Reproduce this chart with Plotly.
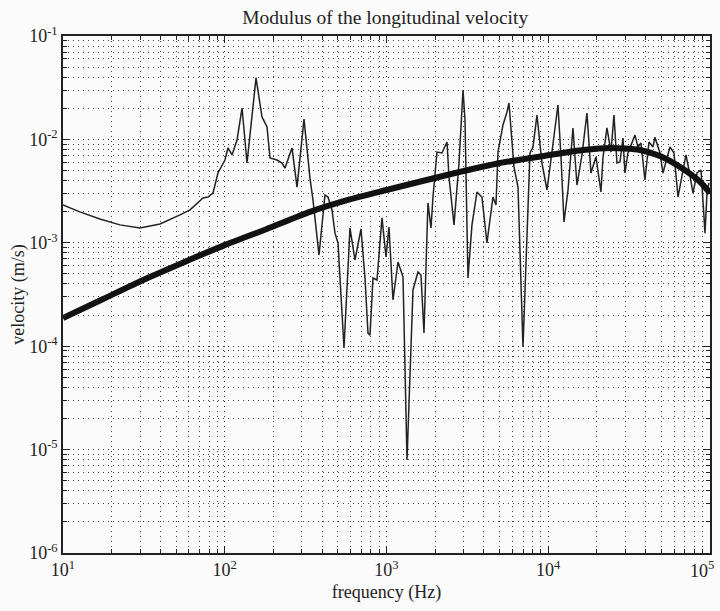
import plotly.graph_objects as go

# Measured (thin) response: frequency (Hz) and velocity modulus (m/s)
freq_meas = [10, 12.7, 16.9, 22.5, 29.9, 39.8, 52.9, 61.0, 73.4, 78.8, 84.6, 90.8, 100.3, 104.7,
             110.9, 119.1, 127.9, 137.3, 156.1, 169.9, 182.5, 190.5, 210.4, 225.9, 235.7, 260.5,
             279.8, 309.0, 336.5, 351.2, 382.5, 416.6, 434.8, 460.3, 480.3, 501.4, 546.1, 594.7,
             638.6, 695.4, 736.2, 768.3, 790.6, 825.0, 873.4, 937.8, 992.7, 1036, 1097, 1178, 1265,
             1339, 1458, 1565, 1634, 1705, 1804, 1884, 1938, 2052, 2203, 2366, 2434, 2614, 2807,
             2972, 3057, 3189, 3376, 3625, 3892, 4179, 4551, 4753, 4890, 5250, 5558, 5718, 6138,
             6500, 6979, 7493, 7710, 8045, 8518, 9145, 9820, 10390, 11480, 11990, 12510, 13250,
             14220, 15050, 16160, 17350, 18370, 19720, 21180, 21780, 23070, 24420, 25480, 26590,
             27760, 28970, 29800, 31110, 34360, 35860, 37430, 39620, 41950, 44400, 45680, 49060,
             51200, 56560, 59880, 63390, 71020, 74140, 78500, 83100, 87970, 93130, 95810, 98500]
vel_meas = [2.32e-3, 1.99e-3, 1.70e-3, 1.49e-3, 1.39e-3, 1.52e-3, 1.86e-3, 2.08e-3, 2.71e-3, 2.77e-3,
            3.03e-3, 4.73e-3, 6.32e-3, 8.26e-3, 7.07e-3, 9.87e-3, 2.01e-2, 5.91e-3, 3.93e-2, 1.65e-2,
            1.32e-2, 6.61e-3, 6.32e-3, 5.91e-3, 5.29e-3, 8.26e-3, 3.46e-3, 1.57e-2, 4.23e-3, 2.59e-3,
            7.62e-4, 2.90e-3, 2.77e-3, 2.08e-3, 1.24e-3, 9.96e-4, 9.61e-5, 1.39e-3, 6.82e-4, 1.36e-3,
            4.57e-4, 1.34e-4, 1.28e-4, 4.57e-4, 4.37e-4, 1.74e-3, 7.29e-4, 1.42e-3, 2.80e-4, 6.52e-4,
            4.67e-4, 7.94e-6, 3.50e-4, 5.22e-4, 4.88e-4, 1.34e-4, 2.43e-3, 1.39e-3, 2.77e-3, 7.55e-3,
            7.39e-3, 9.44e-3, 4.33e-3, 1.49e-3, 5.91e-3, 3.00e-2, 1.54e-2, 4.57e-4, 1.49e-3, 3.10e-3,
            2.77e-3, 9.96e-4, 2.77e-3, 2.32e-3, 7.55e-3, 1.38e-2, 1.84e-2, 2.25e-2, 5.41e-3, 3.46e-3,
            9.82e-5, 2.59e-3, 7.39e-3, 8.45e-3, 1.72e-2, 5.91e-3, 3.24e-3, 6.32e-3, 2.15e-2, 6.76e-3,
            1.59e-3, 3.24e-3, 1.29e-2, 3.62e-3, 7.07e-3, 1.80e-2, 4.73e-3, 6.76e-3, 3.10e-3, 6.61e-3,
            1.29e-2, 7.55e-3, 1.72e-2, 5.91e-3, 6.04e-3, 1.03e-2, 4.73e-3, 7.39e-3, 1.10e-2, 8.45e-3,
            9.23e-3, 4.05e-3, 9.44e-3, 8.45e-3, 1.05e-2, 7.39e-3, 4.73e-3, 8.45e-3, 7.39e-3, 2.77e-3,
            7.07e-3, 5.06e-3, 3.03e-3, 4.73e-3, 5.06e-3, 1.24e-3, 3.03e-3, 3.79e-3]

# Model (thick) curve
freq_model = [10, 17.7, 31.3, 56, 100, 182, 336, 578, 1000, 2470, 5030, 10250, 16390, 24100,
              36900, 49100, 65300, 86700, 100000]
vel_model = [1.87e-4, 2.86e-4, 4.37e-4, 6.5e-4, 9.5e-4, 1.36e-3, 1.99e-3, 2.6e-3, 3.24e-3, 4.6e-3,
             5.91e-3, 7.06e-3, 7.89e-3, 8.26e-3, 7.9e-3, 6.9e-3, 5.4e-3, 3.9e-3, 3.03e-3]

x_tickvals = [10, 100, 1000, 10000, 100000]
x_ticktext = ["10<sup>1</sup>", "10<sup>2</sup>", "10<sup>3</sup>", "10<sup>4</sup>", "10<sup>5</sup>"]
y_tickvals = [1e-6, 1e-5, 1e-4, 1e-3, 1e-2, 1e-1]
y_ticktext = ["10<sup>-6</sup>", "10<sup>-5</sup>", "10<sup>-4</sup>", "10<sup>-3</sup>",
              "10<sup>-2</sup>", "10<sup>-1</sup>"]

FONT = "Liberation Serif, Times New Roman, serif"
DOTS = "1px,4px"
INK = "#222222"

fig = go.Figure()
fig.add_trace(go.Scatter(x=freq_meas, y=vel_meas, mode="lines",
                         line=dict(color=INK, width=1.5), showlegend=False))
fig.add_trace(go.Scatter(x=freq_model, y=vel_model, mode="lines",
                         line=dict(color="#111111", width=6, shape="spline", smoothing=0.6),
                         showlegend=False))

axis_common = dict(
    type="log", showline=True, linecolor=INK, linewidth=1.5, mirror="ticks",
    ticks="inside", ticklen=7, tickcolor=INK, zeroline=False, automargin=False,
    tickfont=dict(family=FONT, size=18, color=INK),
    showgrid=True, gridcolor="#333333", gridwidth=1, griddash=DOTS,
    minor=dict(dtick="D1", ticks="inside", ticklen=4, tickcolor=INK,
               showgrid=True, gridcolor="#444444", gridwidth=1, griddash=DOTS),
)

# the last x tick label would overflow the page edge: draw it as an annotation instead
shown_xtext = x_ticktext[:-1] + [""]

fig.update_xaxes(range=[1, 5], tickvals=x_tickvals, ticktext=shown_xtext,
                 title=dict(text="frequency (Hz)", font=dict(family=FONT, size=18, color=INK),
                            standoff=6),
                 **axis_common)
fig.update_yaxes(range=[-6, -1], tickvals=y_tickvals, ticktext=y_ticktext,
                 title=dict(text="velocity (m/s)", font=dict(family=FONT, size=18, color=INK),
                            standoff=0),
                 **axis_common)

fig.add_annotation(x=5, xref="x", y=0, yref="paper", text=x_ticktext[-1], showarrow=False,
                   xanchor="center", yanchor="top", xshift=-8, yshift=-3,
                   font=dict(family=FONT, size=18, color=INK))

fig.update_layout(
    width=720, height=611,
    margin=dict(l=63, r=10, t=36, b=58),
    paper_bgcolor="#fbfbfb", plot_bgcolor="#fbfbfb",
    title=dict(text="Modulus of the longitudinal velocity", x=0.535, xanchor="center",
               y=0.972, yanchor="middle", font=dict(family=FONT, size=19.5, color=INK)),
)

fig.write_html("out.html", config={"displayModeBar": False},
               post_script="document.body.style.margin='0';document.body.style.overflow='hidden';")
